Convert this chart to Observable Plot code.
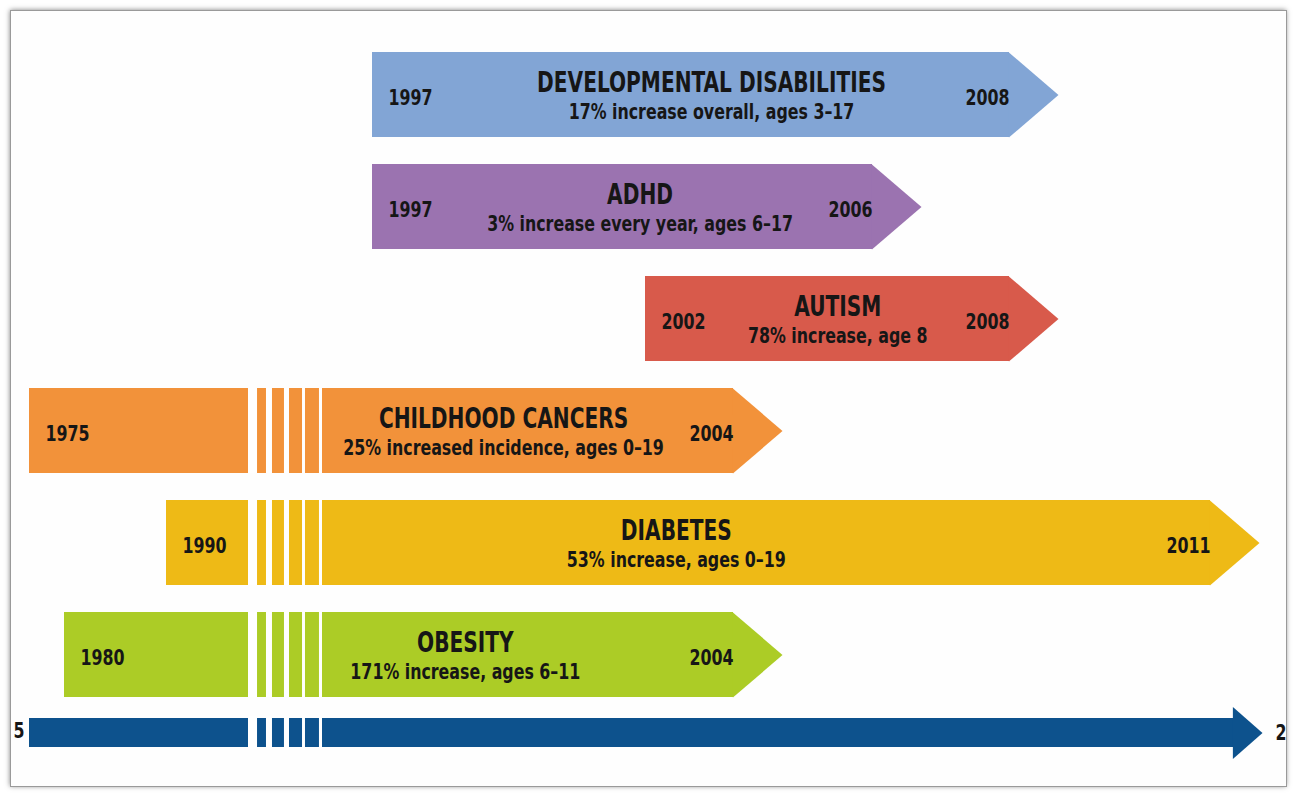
<!DOCTYPE html>
<html>
<head>
<meta charset="utf-8">
<script src="https://cdn.jsdelivr.net/npm/d3@7"></script>
<script src="https://cdn.jsdelivr.net/npm/@observablehq/plot@0.6"></script>
<style>
  html, body { margin: 0; padding: 0; background: #ffffff; }
  #wrap { position: relative; width: 1296px; height: 797px; overflow: hidden; }
  #bg { position: absolute; left: 10px; top: 10px; width: 1276px; height: 776px; background: #fefefe; box-shadow: 0 0 5px rgba(0,0,0,0.5); }
  #chart { position: absolute; left: 0; top: 0; clip-path: inset(11px 10px 11px 11px); }
  #frame { position: absolute; left: 10px; top: 10px; width: 1275px; height: 775px; border: 1px solid #9a9a9a; pointer-events: none; }
</style>
</head>
<body>
<div id="wrap"><div id="bg"></div><div id="chart"></div><div id="frame"></div></div>
<script>
// ---- data ----
const conditions = ["DEVELOPMENTAL DISABILITIES", "ADHD", "AUTISM", "CHILDHOOD CANCERS", "DIABETES", "OBESITY"];
const details = [
  "17% increase overall, ages 3–17",
  "3% increase every year, ages 6–17",
  "78% increase, age 8",
  "25% increased incidence, ages 0–19",
  "53% increase, ages 0–19",
  "171% increase, ages 6–11"
];
const startYears = [1997, 1997, 2002, 1975, 1990, 1980];
const endYears = [2008, 2006, 2008, 2004, 2011, 2004];
const labelYears = [2003.5, 2001.9, 2005.5, 1999.4, 2002.7, 1998.7];
const barColors = ["#82a5d5", "#9b73b0", "#d85a4b", "#f2923a", "#eeba16", "#accc26"];
const axisYears = [1975, 2011];
const axisEndLabels = ["5", "2"];
const breakYears = [1993, 1995];

// ---- derived tables ----
const rows = conditions.map((c, i) => ({
  condition: c, detail: details[i], start: startYears[i], end: endYears[i], labelYear: labelYears[i]
}));
const AXIS = "axis";
const axisRow = [{condition: AXIS, start: axisYears[0], end: axisYears[1]}];

// broken-axis stripe pattern (fractions of the break span)
const gapFractions = [[0, 0.122], [0.243, 0.324], [0.486, 0.554], [0.730, 0.770], [0.959, 1.0]];
const span = breakYears[1] - breakYears[0];
const crossing = [...rows.filter(d => d.start < breakYears[0]), ...axisRow];
const stripes = [];
for (const r of crossing) for (const [a, b] of gapFractions)
  stripes.push({condition: r.condition, x1: breakYears[0] + a * span, x2: breakYears[0] + b * span});

// piecewise (non-uniform, infographic) time scale
const xKnots = [1975, 1980, 1990, breakYears[0], breakYears[1], 1997, 2002, 2004, 2006, 2008, 2011];
const xPixels = [29, 64, 166, 248, 322, 372, 645, 733, 872, 1009, 1210];

const font = "'Liberation Sans Narrow', 'Arial Narrow', 'DejaVu Sans Condensed', sans-serif";
const ink = "#161616";
const headSymbol = (len, half) => ({
  draw(ctx) { ctx.moveTo(-0.6, -half); ctx.lineTo(len, 0); ctx.lineTo(-0.6, half); ctx.closePath(); }
});
const AX_DY = -34;

const chart = Plot.plot({
  width: 1296,
  height: 797,
  margin: 0,
  style: {background: "transparent", fontFamily: font},
  x: {type: "linear", domain: xKnots, range: xPixels, axis: null},
  y: {type: "band", domain: [...conditions, AXIS], range: [51, 809.5], paddingInner: 0.238, paddingOuter: 0, axis: null},
  color: {domain: conditions, range: barColors},
  marks: [
    // bar bodies
    Plot.barX(rows, {x1: "start", x2: "end", y: "condition", fill: "condition"}),
    // arrow heads
    Plot.dot(rows, {x: "end", y: "condition", fill: "condition", stroke: "none", symbol: headSymbol(49, 42.6)}),
    // timeline axis arrow
    Plot.barX(axisRow, {x1: "start", x2: "end", y: "condition", fill: "#0d528d", insetTop: 28, insetBottom: 28, insetRight: -23, dy: AX_DY}),
    Plot.dot(axisRow, {x: "end", y: "condition", dx: 23, dy: AX_DY, fill: "#0d528d", stroke: "none", symbol: headSymbol(29, 26)}),
    // broken-axis white stripes
    Plot.barX(stripes.filter(d => d.condition !== AXIS), {x1: "x1", x2: "x2", y: "condition", fill: "white"}),
    Plot.barX(stripes.filter(d => d.condition === AXIS), {x1: "x1", x2: "x2", y: "condition", fill: "white", insetTop: 26, insetBottom: 26, dy: AX_DY}),
    // axis end labels (cut by the frame)
    Plot.text(axisRow, {x: "start", y: "condition", text: () => axisEndLabels[0], textAnchor: "end", dx: -5, dy: AX_DY - 2, fontSize: 22, fontWeight: "bold", fill: ink}),
    Plot.text(axisRow, {x: "end", y: "condition", text: () => axisEndLabels[1], textAnchor: "start", dx: 65, dy: AX_DY, fontSize: 22, fontWeight: "bold", fill: ink}),
    // titles & details
    Plot.text(rows, {x: "labelYear", y: "condition", text: "condition", dy: -12, fontSize: 28, fontWeight: "bold", fill: ink}),
    Plot.text(rows, {x: "labelYear", y: "condition", text: "detail", dy: 16.5, fontSize: 22, fontWeight: "bold", fill: ink}),
    // start / end years
    Plot.text(rows, {x: "start", y: "condition", text: d => String(d.start), textAnchor: "start", dx: 16, dy: 3, fontSize: 22, fontWeight: "bold", fill: ink}),
    Plot.text(rows, {x: "end", y: "condition", text: d => String(d.end), textAnchor: "end", dx: 0, dy: 3, fontSize: 22, fontWeight: "bold", fill: ink})
  ]
});

// condensed lettering like the original (horizontal squeeze around each text's anchor)
const squeeze = 0.8;
chart.querySelectorAll("text").forEach(t => {
  const tr = t.getAttribute("transform");
  if (tr && tr.includes("translate")) {
    t.setAttribute("transform", tr + ` scale(${squeeze},1)`);
  } else {
    const x = +(t.getAttribute("x") || 0), y = +(t.getAttribute("y") || 0);
    t.removeAttribute("x"); t.removeAttribute("y");
    t.setAttribute("transform", `${tr || ""} translate(${x},${y}) scale(${squeeze},1)`);
  }
});
document.getElementById("chart").appendChild(chart);
</script>
</body>
</html>
